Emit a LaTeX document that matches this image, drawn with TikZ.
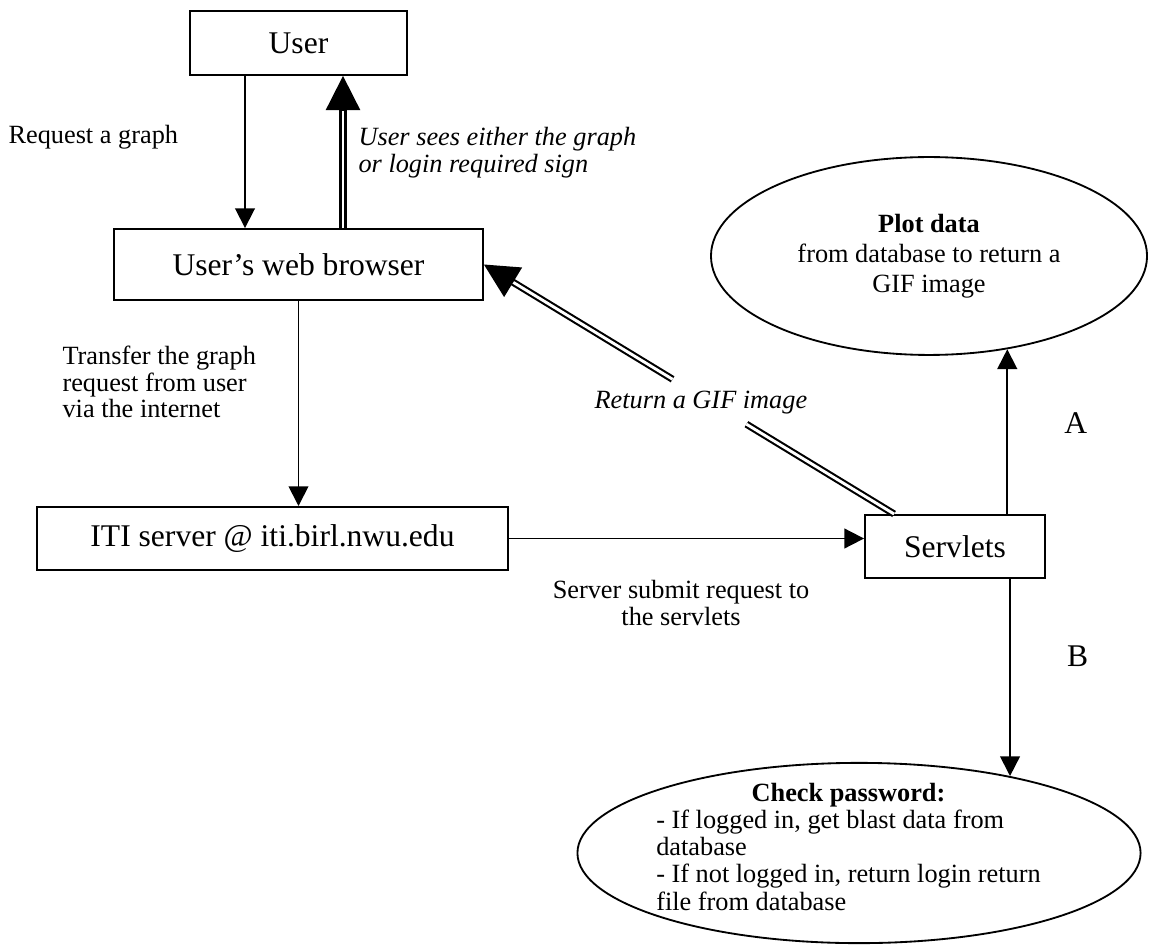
\documentclass[tikz,border=0pt]{standalone}
\usepackage{fontspec}
\setmainfont{Liberation Serif}
\usetikzlibrary{shapes.geometric}
\usetikzlibrary{calc}
\usetikzlibrary{arrows.meta}

\tikzset{
  box/.style={draw, line width=0.7pt, inner sep=0pt, font=\fontsize{12}{14}\selectfont},
  oval/.style={draw, ellipse, line width=0.7pt, inner sep=0pt, font=\fontsize{10}{11.5}\selectfont},
  note/.style={inner sep=0pt, align=left, font=\fontsize{10}{10.2}\selectfont},
  arr/.style={line width=0.7pt, -{Triangle[length=7.5pt,width=7.5pt]}},
  dbl/.style={double, double distance=1.1pt, line width=0.8pt},
  bigtip/.style={line width=0.7pt, -{Triangle[length=13pt,width=13pt]}},
}

\begin{document}
\begin{tikzpicture}[x=0.38pt, y=-0.38pt]
        \useasboundingbox (0,0) rectangle (1149,945);
        % boxes and ovals
        \node[box, minimum width=82.5pt, minimum height=24.3pt] (user) at (298.5,43) {User};
        \node[box, minimum width=140.2pt, minimum height=27pt] (browser) at (298.5,264.5) {User’s web browser};
        \node[box, minimum width=179pt, minimum height=24pt] (iti) at (272.5,538.5) {ITI server @ iti.birl.nwu.edu};
        \node[box, minimum width=68.4pt, minimum height=24pt] (servlets) at (955,546.5) {Servlets};
        \node[oval, minimum width=165.7pt, minimum height=75.2pt, align=center] (plot) at (929,256)
         {\textbf{Plot data}\\from database to return a\\GIF image};
        \node[oval, minimum width=214pt, minimum height=68.5pt, font=\fontsize{10}{10.3}\selectfont] (check) at (859,853)
         {\makebox[0pt]{\smash{\raisebox{-1.5pt}{\begin{tabular}{@{}l@{}}
          \multicolumn{1}{@{}c@{}}{\textbf{Check password:}}\\
          - If logged in, get blast data from\\
          database\\
          - If not logged in, return login return\\
          file from database
          \end{tabular}}}\hspace*{8pt}}};

        \coordinate (reqx) at (245,0);
        \coordinate (seex) at (343,0);
        \coordinate (gifsrc) at ($(servlets.north west)+(30,0)$);

        % user <-> browser
        \draw[arr](user.south -| reqx) -- (browser.north -| reqx);
        \draw[dbl, shorten >=12pt](browser.north -| seex) -- (user.south -| seex);
        \draw[bigtip]($(user.south -| seex)+(0,-13pt)$) -- (user.south -| seex);
        \node[note, anchor=west] (reqlbl) at (8,137) {Request a graph};
        \node[note, anchor=west, font=\fontsize{10}{10.2}\selectfont\itshape] (seelbl) at (358,153)
         {User sees either the graph\\or login required sign};

        % browser -> server -> servlets
        \draw[arr](browser.south) -- (browser.south |- iti.north);
        \node[note, anchor=west] (xferlbl) at (62,382) {Transfer the graph\\request from user\\via the internet};
        \draw[arr](iti.east) -- (iti.east -| servlets.west);
        \node[note, align=center] (sublbl) at (681,603) {Server submit request to\\the servlets};

        % gif image back to the browser
        \draw[dbl](gifsrc) -- ($(gifsrc)!0.36!(browser.east)$);
        \draw[dbl, shorten >=12pt]($(gifsrc)!0.54!(browser.east)$) -- (browser.east);
        \draw[bigtip]($(browser.east)!13pt!(gifsrc)$) -- (browser.east);
        \node[note, anchor=west, font=\fontsize{10}{10.2}\selectfont\itshape] (giflbl) at (594,403) {Return a GIF image};

        % servlets -> A / B
        \draw[arr](servlets.north -| plot.-50.7) -- (plot.-50.7)
         node[pos=0.55, right=18pt, font=\fontsize{12}{14}\selectfont]{A};
        \draw[arr](servlets.south -| check.27.3) -- (check.27.3)
         node[pos=0.39, right=18pt, font=\fontsize{12}{14}\selectfont]{B};
    \end{tikzpicture}
\end{document}
